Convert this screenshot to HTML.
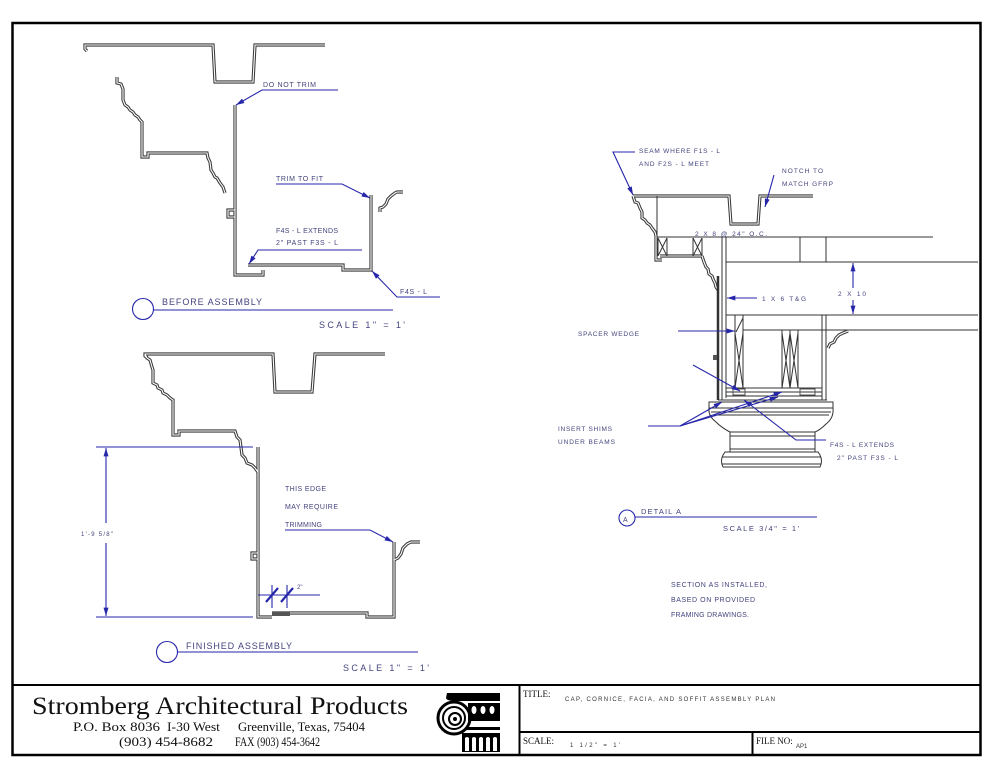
<!DOCTYPE html>
<html><head><meta charset="utf-8"><style>
html,body{margin:0;padding:0;background:#fff;}
svg{display:block;}
.t{font-family:"Liberation Sans",sans-serif;fill:#44447e;font-size:7px;}
.s{font-family:"Liberation Serif",serif;fill:#111;}
</style></head><body>
<svg width="993" height="768" viewBox="0 0 993 768" xmlns="http://www.w3.org/2000/svg">
<defs>
<marker id="ar" viewBox="0 0 10 6" refX="10" refY="3" markerWidth="9" markerHeight="5" orient="auto" markerUnits="userSpaceOnUse"><path d="M0,0 L10,3 L0,6 z" fill="#2626aa"/></marker>
<g id="ol">
<path d="M87,51 L85,49 L85,45 L213,45 L215,82 L253,82 L255,45 L325,45"/>
<path d="M117,77 L117,83 L121,84 L123,89 L123,100 L125,105 L128,107 L130,110 L133,112 L135,115 L138,117 L140,120 L142,122 L142,157 L148,157 L148,153 L207,153 L208,158 L210,162 L211,170 L213,173 L215,177 L217,178 L220,183 L223,187 L225,193"/>
<path d="M235,105 L235,275 L263,275 L263,270"/>
<path d="M235,210 L228,210 L228,217 L235,217"/>
<path d="M248,265 L343,265 L343,270 L371,270 L371,195"/>
<path d="M380,212 L380,208 L383,207 L386,204 L388,199 L391,196 L395,193 L397,192 L403,192"/>
<path d="M147,358 L145,356 L145,354 L273,354 L275,392 L312,392 L315,354 L385,354"/>
<path d="M145,354 L147,358 L150,360 L152,367 L153,370 L153,383 L157,385 L158,388 L162,390 L163,393 L167,395 L170,398 L173,400 L173,435 L179,435 L179,431 L235,431 L237,437 L240,440 L242,455 L245,458 L247,463 L252,465 L255,468 L258,472"/>
<path d="M258,447 L258,617 L272,617"/>
<path d="M258,553 L252,553 L252,559 L258,559"/>
<path d="M272,613 L367,613 L367,617 L394,617 L394,542"/>
<path d="M394,560 L398,558 L401,554 L403,548 L407,544 L411,542 L420,542"/>
<path d="M633,196 L729,196 L731,224 L758,224 L760,196 L813,196"/>
<path d="M633,196 L635,202 L638,203 L640,208 L642,212 L642,218 L645,220 L647,223 L650,225 L652,228 L655,232 L656,236 L656,260 L662,260"/>
<path d="M660,256 L702,256"/>
<path d="M702,256 L704,262 L706,267 L708,269 L709,274 L712,276 L713,279 L715,283 L716,287 L718,290"/>
<path d="M828,348 L830,344 L834,342 L836,338 L839,335 L843,333 L848,331"/>
</g>
</defs>
<rect x="0" y="0" width="993" height="768" fill="#fff"/>

<use href="#ol" fill="none" stroke="#3a3a3a" stroke-width="3.2" stroke-linejoin="miter"/>
<use href="#ol" fill="none" stroke="#ffffff" stroke-width="1.1" stroke-linejoin="miter"/>

<rect x="272" y="612" width="18" height="4" fill="#555"/>

<g fill="none" stroke="#333" stroke-width="1">
<path d="M657,196 L657,237 M657,237 L933,237"/>
<path d="M658,238 L658,256 M667,238 L667,256 M658,238 L667,256 M667,238 L658,256"/>
<path d="M693,238 L693,256 M702,238 L702,256 M693,238 L702,256 M702,238 L693,256"/>
<path d="M722,237 L722,400 M726,237 L726,398"/>
<path d="M726,262 L978,262 M726,315 L978,315 M743,330 L978,330"/>
<path d="M800,237 L800,262 M826,237 L826,262"/>
<path d="M735,315 L735,388 M743,315 L743,388 M743,318 L736,332 M735,333 L743,388 M743,333 L735,388"/>
<path d="M782,330 L782,388 M790,330 L790,388 M798,330 L798,388 M782,333 L790,388 M790,333 L782,388 M790,333 L798,388 M798,333 L790,388"/>
<path d="M822,315 L822,400 M826,315 L826,400"/>
<path d="M726,388 L822,388 M726,392 L822,392 M726,396 L822,396 M718,400 L827,400"/>
<path d="M733,389 L745,389 L745,395 L733,395 Z M800,389 L815,389 L815,395 L800,395 Z" stroke="#555"/>
<rect x="709" y="402" width="124" height="6"/>
<path d="M709,408 L833,408 Q834,418 826,424 Q820,430 815,432 L730,432 Q722,428 716,422 Q708,416 709,408 Z"/>
<path d="M711,412 L831,412 M713,415 L829,415"/>
<rect x="730" y="432" width="85" height="20"/>
<path d="M730,436 L815,436 M730,449 L815,449"/>
<path d="M725,452 L818,452 L820,455 Q823,461 820,467 L723,467 Q720,461 723,455 Z"/>
<path d="M722,457 L821,457 M722,464 L821,464"/>
</g>
<path d="M718,276 L718,400" stroke="#333" stroke-width="2.5"/>
<rect x="713" y="355" width="4" height="5" fill="#555"/>

<g fill="none" stroke="#2626aa" stroke-width="1.1">
<path d="M338,90 L262,90 L236,105" marker-end="url(#ar)"/>
<path d="M276,184 L342,184 L370,198" marker-end="url(#ar)"/>
<path d="M362,250 L258,250 L249,264" marker-end="url(#ar)"/>
<path d="M440,297 L397,297 L372,271" marker-end="url(#ar)"/>
<circle cx="143" cy="309" r="10.5"/>
<path d="M153.5,310 L393,310"/>
<path d="M285,530 L370,530 L393,542" marker-end="url(#ar)"/>
<path d="M258,595 L320,595 M272,585 L272,608 M287,585 L287,608"/>
<path d="M96,447 L253,447 M96,617 L253,617"/>
<path d="M106,523 L106,448" marker-end="url(#ar)"/>
<path d="M106,543 L106,616" marker-end="url(#ar)"/>
<circle cx="167" cy="652" r="10.5"/>
<path d="M177.5,652 L418,652"/>
<path d="M635,152 L613,152 L633,195" marker-end="url(#ar)"/>
<path d="M774,175 L765,207" marker-end="url(#ar)"/>
<path d="M757,298 L727,298" marker-end="url(#ar)"/>
<path d="M678,331 L735,331" marker-end="url(#ar)"/>
<path d="M853,288 L853,263" marker-end="url(#ar)"/>
<path d="M853,300 L853,314" marker-end="url(#ar)"/>
<path d="M693,365 L740,391" marker-end="url(#ar)"/>
<path d="M648,426 L680,426"/>
<path d="M680,426 L722,402" marker-end="url(#ar)"/>
<path d="M680,426 L782,392" marker-end="url(#ar)"/>
<path d="M680,426 L778,397" marker-end="url(#ar)"/>
<path d="M826,440 L796,440 L744,400" marker-end="url(#ar)"/>
<circle cx="627" cy="518" r="8"/>
<path d="M635,517 L817,517"/>
</g>
<path d="M266,602 L278,588 M281,602 L293,588" stroke="#2626aa" stroke-width="2.2"/>

<text class="t" x="263" y="87" textLength="53" lengthAdjust="spacing">DO NOT TRIM</text>
<text class="t" x="276" y="181" textLength="47" lengthAdjust="spacing">TRIM TO FIT</text>
<text class="t" x="276" y="233" textLength="62" lengthAdjust="spacing">F4S - L EXTENDS</text>
<text class="t" x="276" y="245" textLength="62" lengthAdjust="spacing">2" PAST F3S - L</text>
<text class="t" x="400" y="294" textLength="27" lengthAdjust="spacing">F4S - L</text>
<text class="t" x="162" y="305" style="font-size:9px" textLength="100" lengthAdjust="spacing">BEFORE ASSEMBLY</text>
<text class="t" x="319" y="328" style="font-size:9px" textLength="86" lengthAdjust="spacing">SCALE  1" = 1'</text>
<text class="t" x="285" y="491" textLength="41" lengthAdjust="spacing">THIS EDGE</text>
<text class="t" x="285" y="509" textLength="53" lengthAdjust="spacing">MAY REQUIRE</text>
<text class="t" x="285" y="527" textLength="37" lengthAdjust="spacing">TRIMMING</text>
<text class="t" x="297" y="589" style="font-size:6px">2"</text>
<text class="t" x="81" y="536" style="font-size:6px" textLength="32" lengthAdjust="spacing">1'-9 5/8"</text>
<text class="t" x="186" y="649" style="font-size:9px" textLength="106" lengthAdjust="spacing">FINISHED ASSEMBLY</text>
<text class="t" x="343" y="671" style="font-size:9px" textLength="86" lengthAdjust="spacing">SCALE  1" = 1'</text>
<text class="t" x="639" y="153" style="font-size:6.5px" textLength="81" lengthAdjust="spacing">SEAM WHERE F1S - L</text>
<text class="t" x="639" y="166" style="font-size:6.5px" textLength="70" lengthAdjust="spacing">AND F2S - L MEET</text>
<text class="t" x="782" y="173" style="font-size:6.5px" textLength="41" lengthAdjust="spacing">NOTCH TO</text>
<text class="t" x="782" y="186" style="font-size:6.5px" textLength="51" lengthAdjust="spacing">MATCH GFRP</text>
<text class="t" x="695" y="236" style="font-size:6.5px" textLength="72" lengthAdjust="spacing">2 X 8 @ 24" O.C.</text>
<text class="t" x="838" y="296" style="font-size:6.5px" textLength="28" lengthAdjust="spacing">2 X 10</text>
<text class="t" x="762" y="301" style="font-size:6.5px" textLength="44" lengthAdjust="spacing">1 X 6 T&amp;G</text>
<text class="t" x="578" y="336" style="font-size:6.5px" textLength="61" lengthAdjust="spacing">SPACER WEDGE</text>
<text class="t" x="558" y="431" style="font-size:6.5px" textLength="54" lengthAdjust="spacing">INSERT SHIMS</text>
<text class="t" x="558" y="444" style="font-size:6.5px" textLength="57" lengthAdjust="spacing">UNDER BEAMS</text>
<text class="t" x="830" y="447" style="font-size:6.5px" textLength="64" lengthAdjust="spacing">F4S - L EXTENDS</text>
<text class="t" x="837" y="460" style="font-size:6.5px" textLength="61" lengthAdjust="spacing">2" PAST F3S - L</text>
<text class="t" x="623" y="522" style="font-size:7px">A</text>
<text class="t" x="641" y="514" style="font-size:7.5px" textLength="40" lengthAdjust="spacing">DETAIL A</text>
<text class="t" x="723" y="531" style="font-size:7.5px" textLength="76" lengthAdjust="spacing">SCALE 3/4" = 1'</text>
<text class="t" x="671" y="587" style="font-size:7px" textLength="96" lengthAdjust="spacing">SECTION AS INSTALLED,</text>
<text class="t" x="671" y="602" style="font-size:7px" textLength="84" lengthAdjust="spacing">BASED ON PROVIDED</text>
<text class="t" x="671" y="617" style="font-size:7px" textLength="78" lengthAdjust="spacing">FRAMING DRAWINGS.</text>

<rect x="12.5" y="23" width="968" height="732" fill="none" stroke="#000" stroke-width="2.5"/>
<path d="M12,685 L981,685 M519.5,685 L519.5,755 M519,732 L981,732 M752.5,732 L752.5,755" stroke="#000" stroke-width="2" fill="none"/>

<text class="s" x="32" y="714" style="font-size:25px" textLength="376" lengthAdjust="spacingAndGlyphs">Stromberg Architectural Products</text>
<text class="s" x="73" y="731" style="font-size:12.5px" textLength="87" lengthAdjust="spacingAndGlyphs">P.O. Box 8036</text>
<text class="s" x="167" y="731" style="font-size:12.5px" textLength="53" lengthAdjust="spacingAndGlyphs">I-30 West</text>
<text class="s" x="238" y="731" style="font-size:12.5px" textLength="127" lengthAdjust="spacingAndGlyphs">Greenville, Texas, 75404</text>
<text class="s" x="119" y="746" style="font-size:12.5px" textLength="94" lengthAdjust="spacingAndGlyphs">(903) 454-8682</text>
<text class="s" x="235" y="746" style="font-size:12.5px" textLength="85" lengthAdjust="spacingAndGlyphs">FAX (903) 454-3642</text>

<g>
<path d="M447,693 L500,693 L500,701 L455,701 Q447,701 446,698 Z" fill="#000"/>
<circle cx="454" cy="718" r="16" fill="none" stroke="#000" stroke-width="3"/>
<circle cx="454" cy="718" r="11" fill="none" stroke="#000" stroke-width="2"/>
<circle cx="455" cy="719" r="6" fill="none" stroke="#000" stroke-width="2"/>
<circle cx="455" cy="719" r="2" fill="#000"/>
<rect x="468" y="703" width="32" height="18" fill="#000"/>
<ellipse cx="474" cy="710" rx="2.5" ry="4" fill="#fff"/>
<ellipse cx="483" cy="710" rx="2.5" ry="4" fill="#fff"/>
<ellipse cx="492" cy="710" rx="2.5" ry="4" fill="#fff"/>
<rect x="466" y="727" width="34" height="3" fill="#000"/>
<rect x="462" y="733" width="38" height="19" fill="#000"/>
<path d="M465,751 L465,738 Q467,736 469,738 L469,751 Z M472,751 L472,738 Q474,736 476,738 L476,751 Z M479,751 L479,738 Q481,736 483,738 L483,751 Z M486,751 L486,738 Q488,736 490,738 L490,751 Z M493,751 L493,738 Q495,736 497,738 L497,751 Z" fill="#fff"/>
</g>

<text class="s" x="523" y="697" style="font-size:9px">TITLE:</text>
<text class="t" x="565" y="701" style="font-size:6px;fill:#333" textLength="210" lengthAdjust="spacing">CAP, CORNICE, FACIA, AND SOFFIT ASSEMBLY PLAN</text>
<text class="s" x="523" y="744" style="font-size:9px">SCALE:</text>
<text class="t" x="570" y="747" style="font-size:6px;fill:#333" textLength="50" lengthAdjust="spacing">1 1/2" = 1'</text>
<text class="s" x="756" y="744" style="font-size:9px">FILE NO:</text>
<text class="t" x="796" y="748" style="font-size:6px;fill:#333">AP1</text>
</svg>
</body></html>
